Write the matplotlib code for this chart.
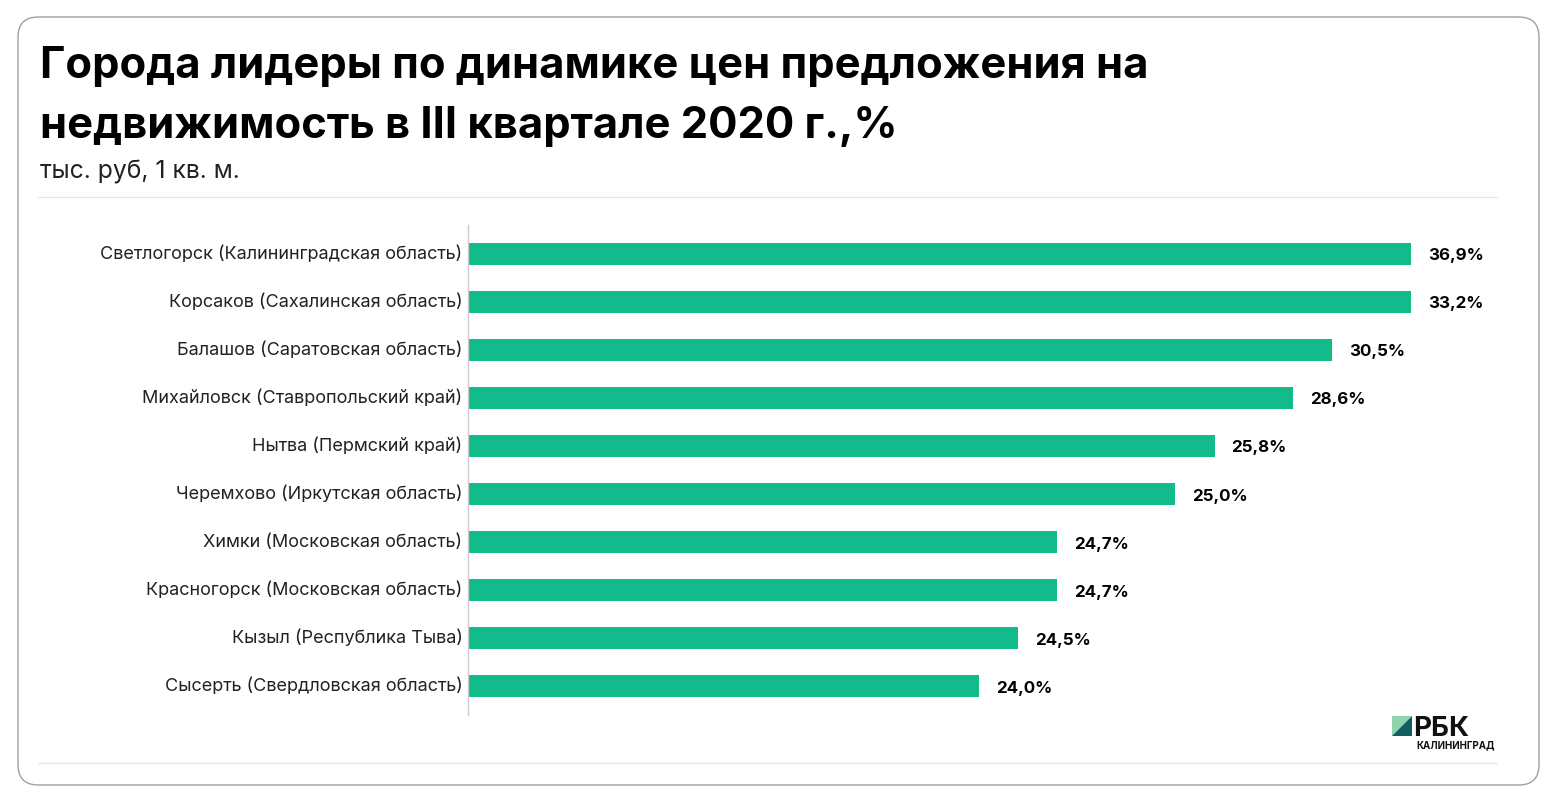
import matplotlib
matplotlib.use("Agg")
import matplotlib.pyplot as plt
from matplotlib.patches import FancyBboxPatch, Polygon
from matplotlib.lines import Line2D

plt.rcParams['font.family'] = ['Inter', 'DejaVu Sans']

# данные
cities = [
    "Светлогорск (Калининградская область)",
    "Корсаков (Сахалинская область)",
    "Балашов (Саратовская область)",
    "Михайловск (Ставропольский край)",
    "Нытва (Пермский край)",
    "Черемхово (Иркутская область)",
    "Химки (Московская область)",
    "Красногорск (Московская область)",
    "Кызыл (Республика Тыва)",
    "Сысерть (Свердловская область)",
]
values = [36.9, 33.2, 30.5, 28.6, 25.8, 25.0, 24.7, 24.7, 24.5, 24.0]
# в оригинале длины полос не пропорциональны подписям - берем как на картинке
bar_len = [24, 24, 22, 21, 19, 18, 15, 15, 14, 13]

W, H = 1558, 805
fig = plt.figure(figsize=(W / 100, H / 100), dpi=100)

def fx(x):
    return x / W

def fy(y):
    return 1 - y / H

# рамка
frame = FancyBboxPatch((fx(18), fy(785)), fx(1539) - fx(18), fy(17) - fy(785),
                       boxstyle="round,pad=0,rounding_size=0.013",
                       transform=fig.transFigure, fill=False,
                       edgecolor="#a0a0a0", linewidth=1.0, mutation_aspect=W / H)
fig.patches.append(frame)

# заголовок
fig.text(fx(40), fy(78), "Города лидеры по динамике цен предложения на",
         fontsize=31.3, fontweight="bold", color="black", va="baseline")
fig.text(fx(40), fy(138), "недвижимость в III квартале 2020 г.,%",
         fontsize=31.3, fontweight="bold", color="black", va="baseline")
fig.text(fx(40), fy(179), "тыс. руб, 1 кв. м.", fontsize=17.8, color="#222222",
         va="baseline")

# линии-разделители
for yy in (197, 763):
    fig.add_artist(Line2D([fx(38), fx(1497)], [fy(yy), fy(yy)],
                          transform=fig.transFigure, color="#e6e6e6", lw=1))

# график
ax_l, ax_r, ax_t, ax_b = 468, 1500, 225, 715
ax = fig.add_axes([fx(ax_l), fy(ax_b), fx(ax_r) - fx(ax_l), fy(ax_t) - fy(ax_b)])
y = list(range(len(cities)))
ax.barh(y, bar_len, height=0.46, color="#13bb8a")
ax.set_ylim(len(cities) - 0.4, -0.6)
ax.set_xlim(0, 24 * (ax_r - ax_l) / 943)

for s in ("top", "right", "bottom"):
    ax.spines[s].set_visible(False)
ax.spines["left"].set_color("#cccccc")
ax.spines["left"].set_linewidth(1)
ax.set_xticks([])
ax.set_yticks(y)
ax.set_yticklabels(cities, fontsize=13, color="#222222", va="center")
ax.tick_params(axis="y", length=0, pad=4)

# подписи значений
for yi, L, v in zip(y, bar_len, values):
    ax.annotate(f"{v:.1f}%".replace(".", ","), (L, yi), xytext=(17, -2),
                textcoords="offset pixels", va="center", ha="left",
                fontsize=12.2, fontweight="bold", color="black")

# логотип РБК
fig.patches.append(Polygon([(fx(1392), fy(716)), (fx(1412), fy(716)),
                            (fx(1392), fy(736))], closed=True,
                           transform=fig.transFigure, color="#8fd3b0", lw=0))
fig.patches.append(Polygon([(fx(1412), fy(716)), (fx(1412), fy(736)),
                            (fx(1392), fy(736))], closed=True,
                           transform=fig.transFigure, color="#0f5f5f", lw=0))
fig.text(fx(1413), fy(736), "РБК", fontsize=20, fontweight="bold",
         color="#111111", va="baseline")
fig.text(fx(1416), fy(748), "КАЛИНИНГРАД", fontsize=7, fontweight="bold",
         color="#111111", va="baseline")

fig.savefig("out.png", dpi=100, facecolor="white")
